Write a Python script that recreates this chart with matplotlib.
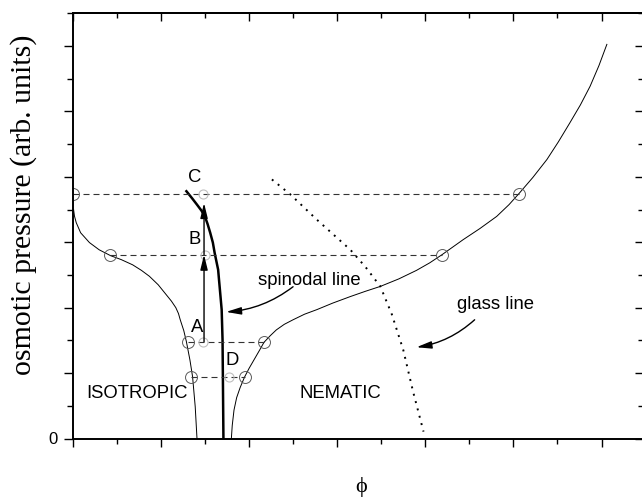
import matplotlib
matplotlib.use("Agg")
import matplotlib.pyplot as plt
import numpy as np

plt.rcParams["font.family"] = ["Liberation Sans", "DejaVu Sans"]

# isotropic branch of the osmotic pressure curve
iso_phi = [0.01, 0.02, 0.04, 0.09, 0.19, 0.30, 0.43, 0.55, 0.68, 0.78,
           0.87, 0.97, 1.06, 1.12, 1.17, 1.20, 1.22, 1.26, 1.29, 1.33,
           1.36, 1.39, 1.41]
iso_p = [7.00, 6.80, 6.60, 6.29, 5.99, 5.77, 5.59, 5.47, 5.31, 5.14,
         4.96, 4.70, 4.40, 4.20, 4.00, 3.82, 3.63, 3.30, 2.96, 2.40,
         1.89, 0.97, 0.00]

# nematic branch
nem_phi = [1.80, 1.81, 1.83, 1.86, 1.90, 1.95, 2.00, 2.06, 2.12, 2.17,
           2.24, 2.31, 2.40, 2.50, 2.63, 2.77, 2.95, 3.15, 3.32, 3.49,
           3.70, 3.90, 4.05, 4.19, 4.43, 4.62, 4.81, 4.95, 5.07, 5.22,
           5.38, 5.51, 5.64, 5.76, 5.87, 5.97, 6.06]
nem_p = [0.00, 0.40, 0.87, 1.25, 1.56, 1.88, 2.14, 2.42, 2.70, 2.94,
         3.14, 3.32, 3.49, 3.63, 3.80, 3.94, 4.14, 4.34, 4.50, 4.65,
         4.88, 5.14, 5.37, 5.62, 6.08, 6.42, 6.79, 7.15, 7.51, 7.98,
         8.53, 9.07, 9.65, 10.20, 10.77, 11.40, 12.05]

# spinodal line
spin_phi = [1.29, 1.35, 1.41, 1.46, 1.50, 1.53, 1.56, 1.59, 1.61, 1.63,
            1.65, 1.66, 1.67, 1.69, 1.70, 1.71]
spin_p = [7.56, 7.36, 7.15, 6.97, 6.79, 6.56, 6.29, 5.99, 5.68, 5.42,
          5.16, 4.85, 4.55, 3.94, 3.02, 0.00]

# glass line
glass_phi = [2.26, 2.47, 2.77, 3.15, 3.32, 3.49, 3.62, 3.75, 3.86, 3.98]
glass_p = [7.92, 7.46, 6.69, 5.77, 5.25, 4.65, 3.80, 2.71, 1.45, 0.21]

# coexistence tie lines: level, left phi, right phi
tie_labels = ["C", "B", "A", "D"]
tie_p = [7.49, 5.62, 2.96, 1.88]
tie_left = [0.00, 0.42, 1.31, 1.34]
tie_right = [5.06, 4.19, 2.17, 1.95]
tie_mid = [1.48, 1.50, 1.48, 1.77]

arrow_phi = 1.49
arrow_top = 7.20

fig = plt.figure(figsize=(6.42, 4.98), dpi=100)
ax = fig.add_axes([72.7 / 642, 1 - 438.5 / 498,
                   (643 - 72.7) / 642, (438.5 - 13.3) / 498])

ax.plot(iso_phi, iso_p, color="black", lw=0.7)
ax.plot(nem_phi, nem_p, color="black", lw=0.7)
ax.plot(spin_phi, spin_p, color="black", lw=1.8)
ax.plot(glass_phi, glass_p, color="black", lw=1.4, linestyle=(0, (1, 2.9)))

for p, x0, x1, xm in zip(tie_p, tie_left, tie_right, tie_mid):
    ax.plot([x0, x1], [p, p], color="0.2", lw=0.8, dashes=(5.4, 3.6))
    ax.plot([x0, x1], [p, p], "o", ms=8.6, mfc="none", mec="0.35",
            mew=0.7)
    ax.plot([xm], [p], "o", ms=6.5, mfc="none", mec="0.75", mew=0.8)

# A -> B -> C path
head = dict(arrowstyle="-|>,head_length=0.9,head_width=0.22",
            color="black", lw=1.0, shrinkA=0, shrinkB=0)
ax.annotate("", xy=(arrow_phi, tie_p[1]), xytext=(arrow_phi, tie_p[2]),
            arrowprops=head)
ax.annotate("", xy=(arrow_phi, arrow_top), xytext=(arrow_phi, tie_p[1]),
            arrowprops=head)

txt = dict(fontsize=13.3, ha="center", va="center")
ax.text(1.38, 7.98, "C", **txt)
ax.text(1.38, 6.08, "B", **txt)
ax.text(1.41, 3.38, "A", **txt)
ax.text(1.81, 2.37, "D", **txt)
ax.text(0.15, 1.39, "ISOTROPIC", fontsize=13.3, ha="left", va="center")
ax.text(3.04, 1.39, "NEMATIC", fontsize=13.3, ha="center", va="center")
ax.text(2.69, 4.82, "spinodal line", **txt)
ax.text(4.80, 4.09, "glass line", **txt)

curve = dict(arrowstyle="-|>,head_length=0.9,head_width=0.22",
             color="black", lw=1.0, shrinkA=0, shrinkB=0,
             connectionstyle="arc3,rad=-0.15")
ax.annotate("", xy=(1.74, 3.87), xytext=(2.50, 4.64), arrowprops=curve)
ax.annotate("", xy=(3.90, 2.79), xytext=(4.56, 3.63), arrowprops=curve)

ax.set_xlim(0, 6.47)
ax.set_ylim(0, 13)

ax.set_xticks(np.arange(0, 7, 1))
ax.set_xticks(np.arange(0.5, 6.5, 1), minor=True)
ax.set_xticklabels([])
yt = np.arange(0, 13, 2)
ax.set_yticks(yt)
ax.set_yticks(np.arange(1, 14, 2), minor=True)
ax.set_yticklabels(["0"] + [""] * (len(yt) - 1))
ax.tick_params(axis="x", which="major", direction="out", length=5.8,
               width=1.0)
ax.tick_params(axis="x", which="minor", direction="out", length=3.6,
               width=1.0)
ax.tick_params(axis="y", which="major", direction="out", length=6.7,
               width=1.0, labelsize=12, pad=4)
ax.tick_params(axis="y", which="minor", direction="out", length=4.3,
               width=1.0)

for s in ax.spines.values():
    s.set_linewidth(1.4)
ax.spines["right"].set_visible(False)

top = ax.secondary_xaxis("top")
top.set_xticks(np.arange(0, 7, 1))
top.set_xticks(np.arange(0.5, 6.5, 1), minor=True)
top.set_xticklabels([])
top.tick_params(which="major", direction="in", length=5.8, width=1.0)
top.tick_params(which="minor", direction="in", length=3.6, width=1.0)
top.spines["top"].set_linewidth(1.4)

right = ax.secondary_yaxis("right")
right.set_yticks(yt)
right.set_yticks(np.arange(1, 14, 2), minor=True)
right.set_yticklabels([])
right.tick_params(which="major", direction="in", length=5.8, width=1.0)
right.tick_params(which="minor", direction="in", length=3.6, width=1.0)
right.spines["right"].set_visible(False)

fig.text(24 / 642, 1 - 205 / 498, "osmotic pressure (arb. units)",
         rotation=90, ha="center", va="center", fontsize=21.5,
         family=["Liberation Serif", "DejaVu Serif"])
fig.text(360.7 / 642, 1 - 487 / 498, "ϕ", ha="center", va="center",
         fontsize=16, family=["Liberation Serif", "DejaVu Serif"])

fig.savefig("out.png", dpi=100)
